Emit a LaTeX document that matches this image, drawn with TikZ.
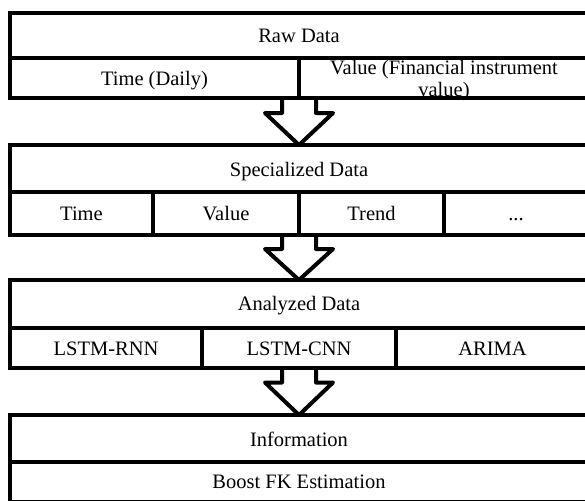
\documentclass[tikz,border=0pt]{standalone}
\usepackage{fontspec}
\usepackage{tikz}
\setmainfont{Liberation Serif}
\usetikzlibrary{calc}

% block arrow from the bottom of one block to the top of the next
\newcommand{\flowarrow}[3]{%
  \draw[bigarrow] ($(#1)+(-17,0)$) -- ($(#1)+(-17,#3)$) -- ($(#1)+(-34,#3)$) -- (#2)
    -- ($(#1)+(34,#3)$) -- ($(#1)+(17,#3)$) -- ($(#1)+(17,0)$);}

\begin{document}
\begin{tikzpicture}[x=1pt, y=-1pt, every node/.style={font=\fontsize{20.5}{22}\selectfont, inner sep=0pt, anchor=base}]
	\tikzset{frame/.style={line width=4pt}, divider/.style={line width=3.5pt}}
	\tikzset{bigarrow/.style={line width=4pt, line join=round}}
	\fill[white] (0,0) rectangle (585,500);
	\useasboundingbox (0,0) rectangle (585,500);
	\clip (0,0) rectangle (585,500);

	% raw data
	\draw[frame] (10,13) rectangle (589,98);
	\draw[frame] (10,58) -- (589,58);
	\draw[divider] (299,58) -- (299,98);
	\node (raw)      at (299,42.5) {Raw Data};
	\node (rawtime)  at (154.5,85) {Time (Daily)};
	\node[anchor=center, align=center] (rawvalue) at (444,80.5) {Value (Financial instrument\\value)};

	% specialized data
	\draw[frame] (10,145) rectangle (589,235);
	\draw[frame] (10,192) -- (589,192);
	\foreach \x in {153,299,444} \draw[divider] (\x,192) -- (\x,235);
	\node (spec)      at (299,176) {Specialized Data};
	\node (spectime)  at (81.5,220.5) {Time};
	\node (specvalue) at (226,220.5) {Value};
	\node (spectrend) at (371.5,220.5) {Trend};
	\node (specmore)  at (516,220.5) {...};

	% analyzed data
	\draw[frame] (10,280) rectangle (589,368);
	\draw[frame] (10,328) -- (589,328);
	\foreach \x in {202,396} \draw[divider] (\x,328) -- (\x,368);
	\node (anal)     at (299,310.5) {Analyzed Data};
	\node (lstmrnn)  at (106,355) {LSTM-RNN};
	\node (lstmcnn)  at (299,355) {LSTM-CNN};
	\node (arima)    at (492.5,355) {ARIMA};

	% information
	\draw[frame] (10,415) rectangle (589,501.5);
	\draw[frame] (10,462) -- (589,462);
	\node (info)  at (299,446) {Information};
	\node (boost) at (299,488) {Boost FK Estimation};

	% arrows between the blocks
	\coordinate (rawbot)   at (299,98);
	\coordinate (spectop)  at (299,145);
	\coordinate (specbot)  at (299,235);
	\coordinate (analtop)  at (299,280);
	\coordinate (analbot)  at (299,368);
	\coordinate (infotop)  at (299,415);
	\flowarrow{rawbot}{spectop}{15}
	\flowarrow{specbot}{analtop}{14}
	\flowarrow{analbot}{infotop}{14.5}
\end{tikzpicture}
\end{document}
